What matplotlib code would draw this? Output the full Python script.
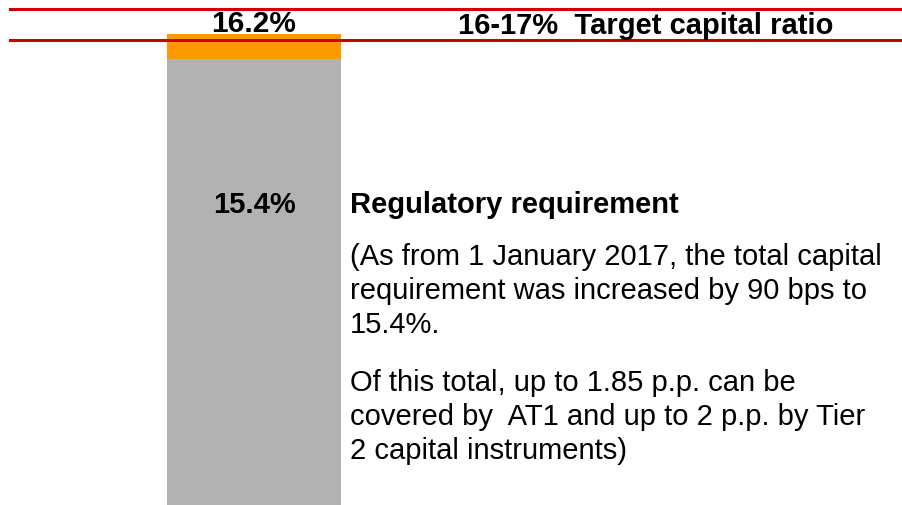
import matplotlib.pyplot as plt

plt.rcParams['font.family'] = ['Liberation Sans', 'DejaVu Sans']

# Data
categories = ['Capital']
regulatory = [15.4]
buffer_ = [0.8]
total_label = '16.2%'
reg_label = '15.4%'
target_band = [16, 17]

fig = plt.figure(figsize=(9.03, 5.06), dpi=100)
ax = fig.add_axes([0, 0, 1, 1])

x = [0]
ax.bar(x, regulatory, width=1.0, color='#b2b2b2')
ax.bar(x, buffer_, width=1.0, bottom=regulatory, color='#ff9900')

# target capital ratio band
for lvl in target_band:
    ax.axhline(lvl, xmin=10 / 903, xmax=1, color='#cc0000', lw=2.2)

ax.set_xlim(-1.46, 3.73)
ax.set_ylim(1, 17 + 10 / 31)
ax.axis('off')

# labels
ax.text(0, 17 - (32 - 10) / 31, total_label, ha='center', va='baseline',
        fontsize=21.5, fontweight='bold')
ax.text(0, 17 - (205 - 10) / 31, reg_label, ha='center', va='center',
        fontsize=21, fontweight='bold')
ax.text(646 / 903, 1 - 34 / 506, '16-17%  Target capital ratio', transform=ax.transAxes,
        ha='center', va='baseline', fontsize=21, fontweight='bold')

ax.text(350 / 903, 1 - 205 / 506, 'Regulatory requirement', transform=ax.transAxes,
        ha='left', va='center', fontsize=21, fontweight='bold')

para1 = ['(As from 1 January 2017, the total capital',
         'requirement was increased by 90 bps to',
         '15.4%.']
para2 = ['Of this total, up to 1.85 p.p. can be',
         'covered by  AT1 and up to 2 p.p. by Tier',
         '2 capital instruments)']
for i, line in enumerate(para1):
    ax.text(350 / 903, 1 - (257 + 34 * i) / 506, line, transform=ax.transAxes,
            ha='left', va='center', fontsize=21)
for i, line in enumerate(para2):
    ax.text(350 / 903, 1 - (383 + 34 * i) / 506, line, transform=ax.transAxes,
            ha='left', va='center', fontsize=21)

fig.savefig('out.png', dpi=100)
